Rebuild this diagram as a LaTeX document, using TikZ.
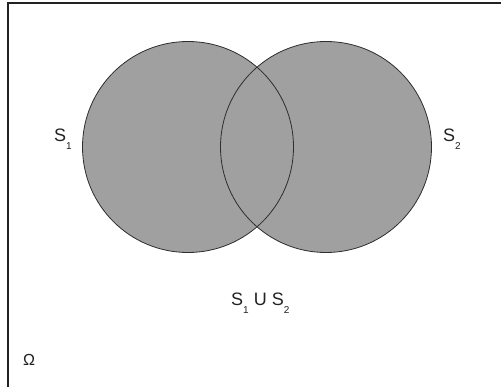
\documentclass[tikz,border=0pt]{standalone}
\usepackage{fontspec}
\setmainfont{Liberation Sans}
\usetikzlibrary{positioning}
\definecolor{setgray}{HTML}{A0A0A0}
\definecolor{rimgray}{HTML}{2E2E2E}
\definecolor{inkgray}{HTML}{222222}
\newcommand{\lowsub}[1]{{\fontsize{10}{10}\selectfont\raisebox{-8pt}{#1}}}

\begin{document}
\begin{tikzpicture}[x=1pt,y=-1pt,
  set/.style={circle, minimum size=211pt, inner sep=0pt, fill=setgray},
  rim/.style={circle, minimum size=211pt, inner sep=0pt, draw=rimgray, line width=0.8pt},
  lbl/.style={inner sep=0pt, text=inkgray, font=\fontsize{18}{20}\selectfont}]
  \useasboundingbox (0,0) rectangle (501,387);
  % universe frame
  \draw[line width=1.2pt, inkgray] (8,390) -- (8,3) -- (504,3);
  % the two sets
  \node[set] (s1) at (188,147) {};
  \node[set] (s2) at (326,147) {};
  \node[rim] (r1) at (s1) {};
  \node[rim] (r2) at (s2) {};
  % labels
  \node[lbl, anchor=base west] (l1) at (54,142) {S\lowsub{1}};
  \node[lbl, anchor=base west] (l2) at (443,142) {S\lowsub{2}};
  \node[lbl, anchor=base west] (un) at (231,306) {S\lowsub{1} U S\lowsub{2}};
  \node[lbl, anchor=base west, font=\fontsize{16}{17}\selectfont] (om) at (23,366) {Ω};
\end{tikzpicture}
\end{document}
